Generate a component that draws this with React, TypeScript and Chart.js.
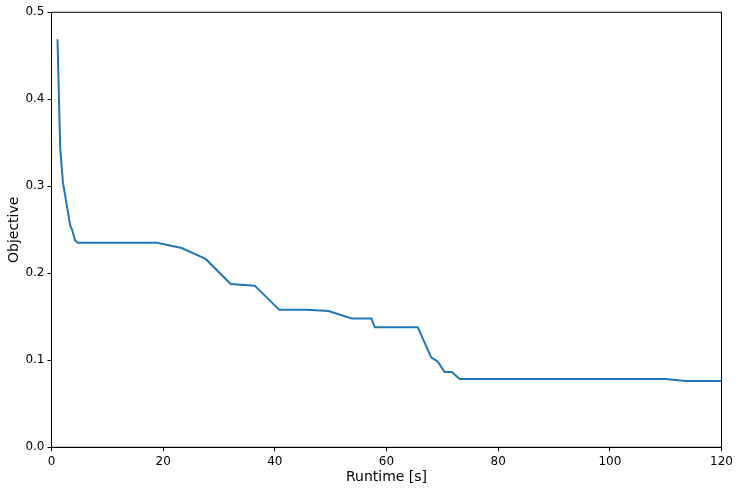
import React, { useEffect, useRef } from "react";
import { Chart, registerables } from "chart.js";

Chart.register(...registerables);

const runtime: number[] = [1.08, 1.55, 2.03, 3.35, 3.7, 4.2, 4.66, 18.9, 23.3, 27.6, 32.1, 36.4, 40.8, 45.7, 49.6, 53.8, 57.3, 57.9, 65.6, 68.0, 69.2, 70.4, 71.7, 73.1, 110.0, 113.5, 120.5];
const objective: number[] = [0.469, 0.345, 0.305, 0.255, 0.25, 0.238, 0.235, 0.235, 0.229, 0.2165, 0.1877, 0.1858, 0.158, 0.158, 0.1567, 0.148, 0.148, 0.138, 0.138, 0.1034, 0.0985, 0.0866, 0.0866, 0.0785, 0.0785, 0.0762, 0.0762];
const xTicks: number[] = [0, 20, 40, 60, 80, 100, 120];
const yTicks: number[] = [0, 0.1, 0.2, 0.3, 0.4, 0.5];

const W = 739;
const H = 492;
const PLOT_LEFT = 51.5;
const PLOT_TOP = 12.3;
const PLOT_RIGHT = 721.5;
const PLOT_BOTTOM = 447.3;

const frame = {
  id: "frame",
  afterDatasetsDraw(chart: any) {
    const { ctx, chartArea } = chart;
    ctx.save();
    ctx.strokeStyle = "#000";
    ctx.lineWidth = 1;
    ctx.strokeRect(chartArea.left, chartArea.top, chartArea.right - chartArea.left, chartArea.bottom - chartArea.top);
    ctx.restore();
  },
};

export default function App() {
  const ref = useRef<HTMLCanvasElement>(null);
  useEffect(() => {
    document.body.style.margin = "0";
    document.body.style.background = "#fff";
    const font = "'DejaVu Sans', sans-serif";
    const chart = new Chart(ref.current!, {
      type: "line",
      data: {
        datasets: [
          {
            data: runtime.map((x, i) => ({ x, y: objective[i] })),
            borderColor: "#1f77b4",
            borderWidth: 2,
            pointRadius: 0,
            tension: 0,
            fill: false,
          },
        ],
      },
      options: {
        animation: false,
        responsive: false,
        layout: { padding: { left: 0, top: PLOT_TOP, right: W - PLOT_RIGHT, bottom: 0 } },
        plugins: { legend: { display: false }, tooltip: { enabled: false } },
        scales: {
          x: {
            type: "linear",
            min: 0,
            max: 120,
            afterBuildTicks: (s: any) => { s.ticks = xTicks.map((v) => ({ value: v })); },
            afterFit: (s: any) => { s.height = H - PLOT_BOTTOM; },
            grid: { drawOnChartArea: false, drawTicks: true, tickLength: 4, color: "#000", tickColor: "#000" },
            border: { display: true, color: "#000" },
            ticks: { color: "#000", font: { family: font, size: 12 }, padding: 3, maxRotation: 0, callback: (v: any) => String(v) },
            title: { display: true, text: "Runtime [s]", color: "#000", font: { family: font, size: 14 }, padding: { top: 2, bottom: 6 } },
          },
          y: {
            type: "linear",
            min: 0,
            max: 0.5,
            afterBuildTicks: (s: any) => { s.ticks = yTicks.map((v) => ({ value: v })); },
            afterFit: (s: any) => { s.width = PLOT_LEFT; },
            grid: { drawOnChartArea: false, drawTicks: true, tickLength: 4, color: "#000", tickColor: "#000" },
            border: { display: true, color: "#000" },
            ticks: { color: "#000", font: { family: font, size: 12 }, padding: 3, callback: (v: any) => Number(v).toFixed(1) },
            title: { display: true, text: "Objective", color: "#000", font: { family: font, size: 14 }, padding: { top: 6, bottom: 2 } },
          },
        },
      },
      plugins: [frame],
    });
    return () => chart.destroy();
  }, []);
  return (
    <div style={{ width: W, height: H, background: "#fff" }}>
      <canvas ref={ref} width={W} height={H} style={{ display: "block", width: W, height: H }} />
    </div>
  );
}
